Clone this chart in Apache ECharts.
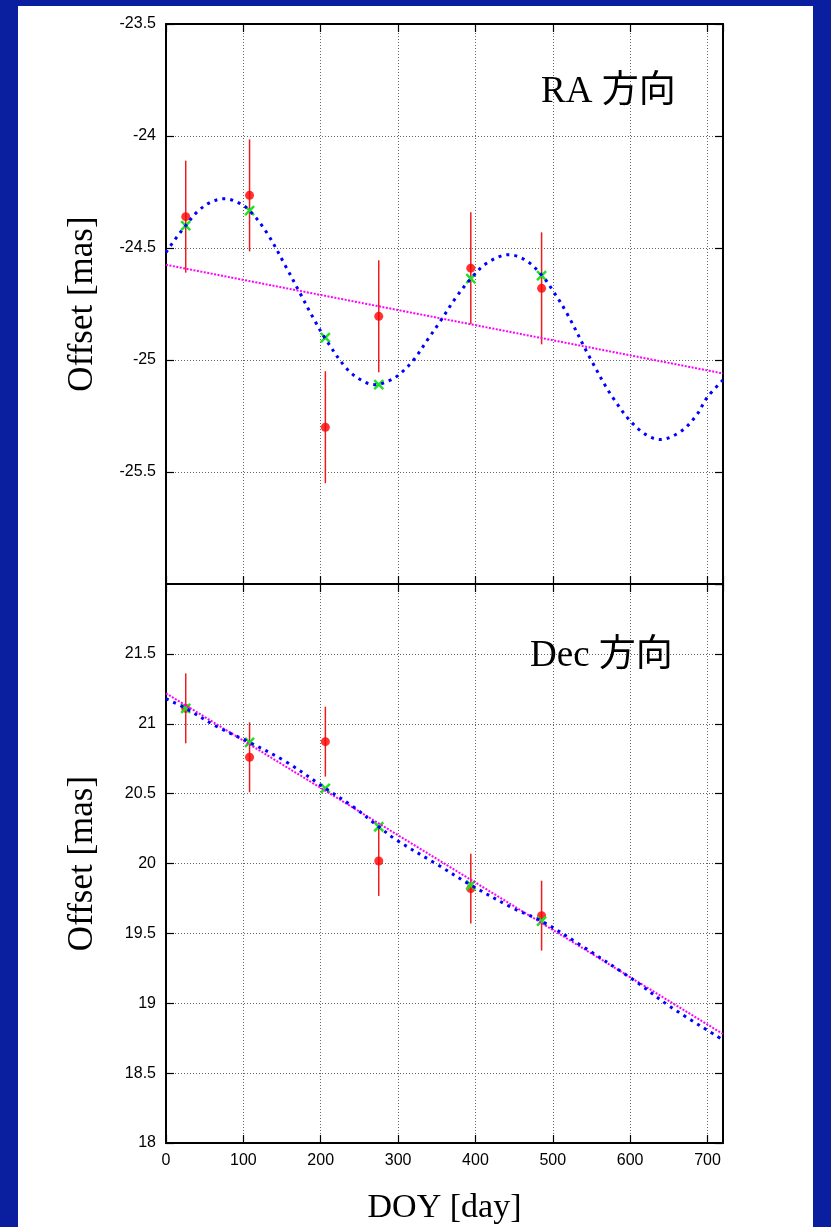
<!DOCTYPE html>
<html>
<head>
<meta charset="utf-8">
<script src="https://cdn.jsdelivr.net/npm/echarts@6/dist/echarts.min.js"></script>
<style>
html,body{margin:0;padding:0;}
#page{position:relative;width:831px;height:1227px;background:#0a1f9f;overflow:hidden;}
#chart{position:absolute;left:18px;top:6px;width:795px;height:1221px;background:#ffffff;}
</style>
</head>
<body>
<div id="page"><div id="chart"></div></div>
<script>
// ---- data ----
var xTicks = [0, 100, 200, 300, 400, 500, 600, 700];
var obsDoy = [25.5, 108, 206, 275, 394, 485.5];

var raObs   = [-24.36, -24.265, -25.30, -24.805, -24.59, -24.68];
var raErr   = [0.25, 0.25, 0.25, 0.25, 0.25, 0.25];
var raModel = [-24.40, -24.333, -24.90, -25.11, -24.637, -24.623];
var raCurveDoy = [0, 12, 25.5, 40, 58, 76, 92, 108, 130, 156, 173, 190, 206, 234, 255, 270, 290, 303, 320, 340, 354, 375, 394, 415, 443, 465, 485.5, 500, 518, 548, 578, 610, 639, 665, 685, 700, 720];
var raCurveVal = [-24.52, -24.46, -24.40, -24.34, -24.295, -24.28, -24.295, -24.333, -24.43, -24.59, -24.70, -24.81, -24.905, -25.04, -25.095, -25.11, -25.09, -25.06, -25.0, -24.90, -24.83, -24.72, -24.637, -24.567, -24.53, -24.555, -24.62, -24.69, -24.79, -24.99, -25.17, -25.306, -25.355, -25.32, -25.25, -25.165, -25.09];
var raLineDoy = [0, 720];
var raLineVal = [-24.575, -25.06];

var decObs   = [21.11, 20.76, 20.872, 20.018, 19.82, 19.627];
var decErr   = [0.25, 0.25, 0.25, 0.25, 0.25, 0.25];
var decModel = [21.11, 20.867, 20.538, 20.263, 19.846, 19.588];
var decCurveDoy = [0, 25.5, 65.6, 108, 156, 206, 242, 275, 298, 350, 394, 449, 485.5, 535.6, 604.6, 652, 720];
var decCurveVal = [21.18, 21.11, 20.98, 20.867, 20.725, 20.538, 20.406, 20.263, 20.168, 19.995, 19.846, 19.679, 19.588, 19.417, 19.166, 18.975, 18.738];
var decLineDoy = [0, 720];
var decLineVal = [21.218, 18.78];

var raTitle = 'RA 方向';
var decTitle = 'Dec 方向';
var yName = 'Offset [mas]';
var xName = 'DOY [day]';

// ---- helpers ----
function pairs(xs, ys) { return xs.map(function (x, i) { return [x, ys[i]]; }); }
function triples(xs, ys, es) { return xs.map(function (x, i) { return [x, ys[i], es[i]]; }); }

var serifFont = '"Liberation Serif", "Noto Sans CJK JP", serif';
var sansFont = '"Liberation Sans", Arial, sans-serif';
var gridLine = { show: true, lineStyle: { color: '#666', width: 1, type: [1, 2] } };
var axisLine = { show: true, onZero: false, lineStyle: { color: '#000', width: 2 } };
var tickIn = { show: true, inside: true, length: 8, lineStyle: { color: '#000', width: 1.2 } };

function xAxisBottom(grid, showLabels) {
  return {
    type: 'value', gridIndex: grid, position: 'bottom', min: 0, max: 720, interval: 100,
    axisLine: axisLine, axisTick: tickIn, splitLine: gridLine,
    axisLabel: { show: showLabels, showMaxLabel: false, color: '#000', fontSize: 16, fontFamily: sansFont, margin: 10 },
    name: showLabels ? xName : '', nameLocation: 'middle', nameGap: 48,
    nameTextStyle: { fontSize: 34, fontFamily: serifFont, color: '#000' }
  };
}
function xAxisTop(grid) {
  return {
    type: 'value', gridIndex: grid, position: 'top', min: 0, max: 720, interval: 100,
    axisLine: axisLine, axisTick: tickIn, splitLine: { show: false }, axisLabel: { show: false }
  };
}
function yAxisLeft(grid, mn, mx, hideMin, hideMax) {
  return {
    type: 'value', gridIndex: grid, position: 'left', min: mn, max: mx, interval: 0.5,
    axisLine: axisLine, axisTick: tickIn, splitLine: gridLine,
    axisLabel: { showMinLabel: !hideMin, showMaxLabel: !hideMax, color: '#000', fontSize: 16, fontFamily: sansFont, margin: 10 },
    name: yName, nameLocation: 'middle', nameGap: 66,
    nameTextStyle: { fontSize: 35, fontFamily: serifFont, color: '#000' }
  };
}
function yAxisRight(grid, mn, mx) {
  return {
    type: 'value', gridIndex: grid, position: 'right', min: mn, max: mx, interval: 0.5,
    axisLine: axisLine, axisTick: tickIn, splitLine: { show: false }, axisLabel: { show: false }
  };
}

function errorBars(grid, data) {
  return {
    type: 'custom', xAxisIndex: grid * 2, yAxisIndex: grid * 2, data: data, z: 3,
    renderItem: function (params, api) {
      var x = api.value(0), y = api.value(1), e = api.value(2);
      var p1 = api.coord([x, y + e]), p2 = api.coord([x, y - e]);
      return { type: 'line', shape: { x1: p1[0], y1: p1[1], x2: p2[0], y2: p2[1] },
               style: { stroke: '#ee1c1c', lineWidth: 1.5 } };
    }
  };
}
function obsPoints(grid, data) {
  return { type: 'scatter', xAxisIndex: grid * 2, yAxisIndex: grid * 2, data: data,
           symbol: 'circle', symbolSize: 9, itemStyle: { color: '#ff0000' }, z: 4 };
}
function crosses(grid, data) {
  return {
    type: 'custom', xAxisIndex: grid * 2, yAxisIndex: grid * 2, data: data, z: 5,
    renderItem: function (params, api) {
      var p = api.coord([api.value(0), api.value(1)]);
      var h = 4.5;
      var st = { stroke: '#22e022', lineWidth: 2.5 };
      return { type: 'group', children: [
        { type: 'line', shape: { x1: p[0] - h, y1: p[1] - h, x2: p[0] + h, y2: p[1] + h }, style: st },
        { type: 'line', shape: { x1: p[0] - h, y1: p[1] + h, x2: p[0] + h, y2: p[1] - h }, style: st }
      ] };
    }
  };
}
function lineSeries(grid, data, color, width, dash, smooth, z) {
  return { type: 'line', xAxisIndex: grid * 2, yAxisIndex: grid * 2, data: data, smooth: smooth,
           showSymbol: false, symbol: 'none', z: z,
           lineStyle: { color: color, width: width, type: dash, cap: 'butt' } };
}

var chart = echarts.init(document.getElementById('chart'), null, { renderer: 'canvas' });
var option = {
  animation: false,
  backgroundColor: '#ffffff',
  grid: [
    { left: 148, right: 90, top: 18, height: 560 },
    { left: 148, right: 90, top: 578, height: 559 }
  ],
  xAxis: [xAxisBottom(0, false), xAxisTop(0), xAxisBottom(1, true), xAxisTop(1)],
  yAxis: [yAxisLeft(0, -26, -23.5, true, false), yAxisRight(0, -26, -23.5),
          yAxisLeft(1, 18, 22, false, true), yAxisRight(1, 18, 22)],
  series: [
    errorBars(0, triples(obsDoy, raObs, raErr)),
    obsPoints(0, pairs(obsDoy, raObs)),
    lineSeries(0, pairs(raLineDoy, raLineVal), '#ff00ff', 2, [2, 1.5], false, 6),
    crosses(0, pairs(obsDoy, raModel)),
    lineSeries(0, pairs(raCurveDoy, raCurveVal), '#0000ff', 3, [3, 5], 0.35, 7),

    errorBars(1, triples(obsDoy, decObs, decErr)),
    obsPoints(1, pairs(obsDoy, decObs)),
    lineSeries(1, pairs(decLineDoy, decLineVal), '#ff00ff', 2, [2, 1.5], false, 6),
    crosses(1, pairs(obsDoy, decModel)),
    lineSeries(1, pairs(decCurveDoy, decCurveVal), '#0000ff', 3, [3, 5], 0.35, 7)
  ],
  graphic: [
    { type: 'text', left: 523, top: 68, z: 10,
      style: { text: raTitle, fontSize: 37, fontFamily: serifFont, fill: '#000' } },
    { type: 'text', left: 512, top: 632, z: 10,
      style: { text: decTitle, fontSize: 37, fontFamily: serifFont, fill: '#000' } }
  ]
};
chart.setOption(option);
</script>
</body>
</html>
